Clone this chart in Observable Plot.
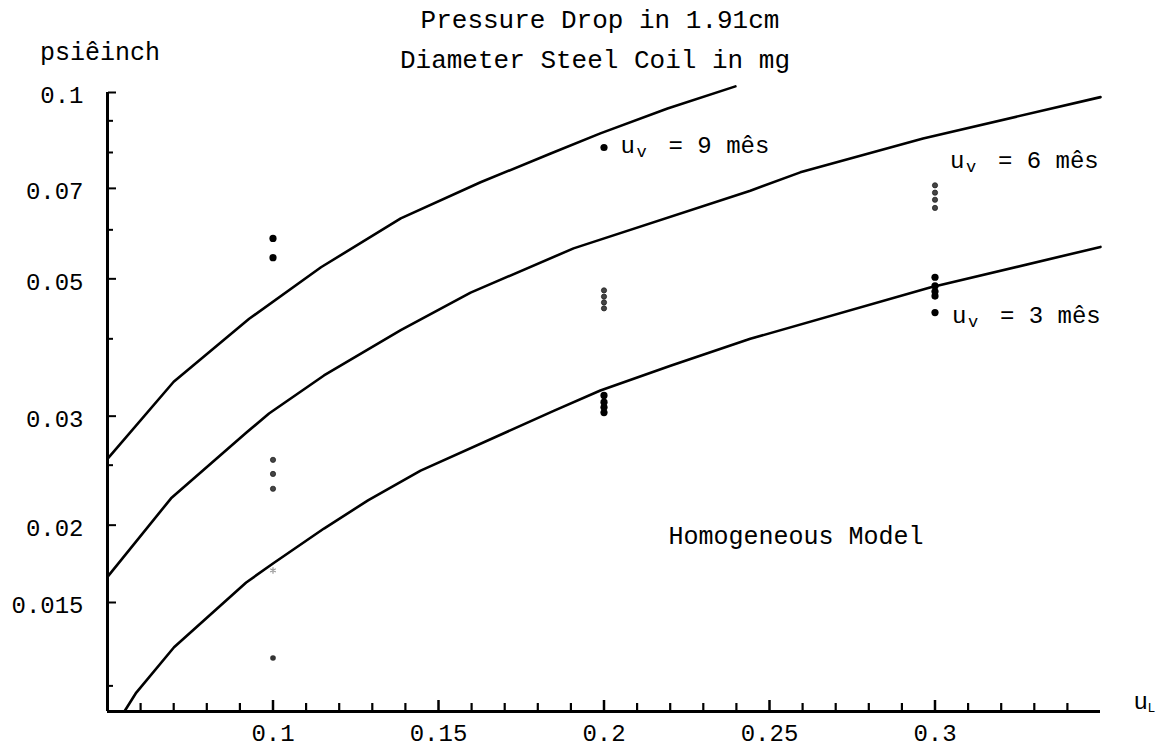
<!DOCTYPE html>
<html>
<head>
<meta charset="utf-8">
<script src="https://cdn.jsdelivr.net/npm/d3@7"></script>
<script src="https://cdn.jsdelivr.net/npm/@observablehq/plot@0.6"></script>
<style>
  body { margin: 0; background: #fff; font-family: "Liberation Mono", monospace; }
  #wrap { position: relative; width: 1169px; height: 750px; overflow: hidden; }
  #head { position: relative; height: 80px; }
  .t { position: absolute; white-space: pre; color: #000; line-height: 1; }
  #t1 { font-size: 26px; left: 600px; top: 8px; transform: translateX(-50%); }
  #t2 { font-size: 26px; left: 595px; top: 48px; transform: translateX(-50%); }
  #yl { font-size: 25px; left: 40px; top: 41px; }
  #chart svg { display: block; }
</style>
</head>
<body>
<div id="wrap">
  <div id="head">
    <div class="t" id="t1">Pressure Drop in 1.91cm</div>
    <div class="t" id="t2">Diameter Steel Coil in mg</div>
    <div class="t" id="yl">psiêinch</div>
  </div>
  <div id="chart"></div>
</div>
<script>
// ---- axis ticks ----
const xTicks = [0.1, 0.15, 0.2, 0.25, 0.3];
const xMinorTicks = [0.06,0.07,0.08,0.09,0.11,0.12,0.13,0.14,0.16,0.17,0.18,0.19,0.21,0.22,0.23,0.24,0.26,0.27,0.28,0.29,0.31,0.32,0.33,0.34];
const yTicks = [0.015, 0.02, 0.03, 0.05, 0.07, 0.1];
const yMinorTicks = [0.011, 0.025, 0.04, 0.06, 0.08, 0.09];

// ---- model curves (homogeneous model) ----
const curveX9 = [0.05, 0.07, 0.0928, 0.1145, 0.1386, 0.1627, 0.1839, 0.1989, 0.2192, 0.2397];
const curveY9 = [0.0256, 0.0341, 0.0431, 0.0522, 0.0626, 0.0716, 0.0797, 0.0859, 0.0942, 0.1023];
const curveX6 = [0.05, 0.0692, 0.0919, 0.0988, 0.1154, 0.1386, 0.1597, 0.1908, 0.2442, 0.2593, 0.2964, 0.35];
const curveY6 = [0.0165, 0.0221, 0.0282, 0.0303, 0.0349, 0.0413, 0.0475, 0.0560, 0.0694, 0.0743, 0.0843, 0.0983];
const curveX3 = [0.0551, 0.0587, 0.0701, 0.0919, 0.1, 0.1154, 0.1287, 0.1446, 0.1848, 0.1989, 0.2201, 0.2442, 0.2985, 0.35];
const curveY3 = [0.0100, 0.01073, 0.0127, 0.01616, 0.01734, 0.01975, 0.02193, 0.0245, 0.0306, 0.0330, 0.0362, 0.0400, 0.0484, 0.0563];

// ---- measured points ----
const pointsX9 = [0.1, 0.1, 0.2];
const pointsY9 = [0.0581, 0.0541, 0.0815];
const pointsX6 = [0.1, 0.1, 0.1, 0.2, 0.2, 0.2, 0.2, 0.3, 0.3, 0.3, 0.3];
const pointsY6 = [0.0255, 0.0242, 0.0229, 0.0479, 0.0468, 0.0458, 0.0448, 0.0708, 0.0689, 0.0671, 0.0651];
const pointsX3 = [0.1, 0.1, 0.2, 0.2, 0.2, 0.2, 0.3, 0.3, 0.3, 0.3, 0.3];
const pointsY3 = [0.0169, 0.0122, 0.0324, 0.0316, 0.0310, 0.0304, 0.0503, 0.0487, 0.0477, 0.0469, 0.0441];

// ---- curve labels ----
const labelSpeeds = ["9", "6", "3"];
const labelX = [0.205, 0.3045, 0.3051];
const labelY = [0.0797, 0.0756, 0.0425];
const modelLabel = ["Homogeneous Model"];
const modelLabelX = [0.2195];
const modelLabelY = [0.01868];

const zip = (xs, ys, extra = {}) => xs.map((x, i) => ({x, y: ys[i], ...extra}));
const curves = [
  ...zip(curveX9, curveY9, {s: "9"}),
  ...zip(curveX6, curveY6, {s: "6"}),
  ...zip(curveX3, curveY3, {s: "3"})
];
const p9 = zip(pointsX9, pointsY9);
const p6 = zip(pointsX6, pointsY6);
const p3 = zip(pointsX3, pointsY3);
const labels = labelSpeeds.map((s, i) => ({s, x: labelX[i], y: labelY[i]}));
const model = modelLabel.map((t, i) => ({t, x: modelLabelX[i], y: modelLabelY[i]}));

const W = 1169, H = 670, ML = 107, MR = 69, MT = 12, MB = 39;
const frameH = H - MT - MB;
const yDomain = [0.01, 0.1];
// tick length in pixels converted to a factor on the log y scale (one decade = frameH px)
const tickEnd = px => yDomain[0] * Math.pow(yDomain[1] / yDomain[0], px / frameH);
const xMinorRows = xMinorTicks.map(x => ({x}));
const xMajorRows = xTicks.map(x => ({x}));

const F = "Liberation Mono";
const noText = () => "";
const chart = Plot.plot({
  width: W,
  height: H,
  marginTop: MT,
  marginBottom: MB,
  marginLeft: ML,
  marginRight: MR,
  x: {domain: [0.05, 0.35]},
  y: {type: "log", domain: yDomain},
  style: {fontFamily: F, fontSize: "24px", color: "#000", background: "#fff", overflow: "visible"},
  marks: [
    // axes lines
    Plot.ruleX([0.05], {stroke: "#000", strokeWidth: 3}),
    Plot.ruleY([0.01], {stroke: "#000", strokeWidth: 3}),
    // inward ticks on y axis (drawn rightward from the left edge)
    Plot.axisY(yMinorTicks, {anchor: "right", frameAnchor: "left", tickSize: 5, strokeWidth: 2, tickFormat: noText, label: null}),
    Plot.axisY(yTicks, {anchor: "right", frameAnchor: "left", tickSize: 8, strokeWidth: 2, tickFormat: noText, label: null}),
    // inward ticks on x axis: short vertical rules rising from the bottom edge
    Plot.ruleX(xMinorRows, {x: "x", y1: () => yDomain[0], y2: () => tickEnd(8), stroke: "#000", strokeWidth: 2.2}),
    Plot.ruleX(xMajorRows, {x: "x", y1: () => yDomain[0], y2: () => tickEnd(11), stroke: "#000", strokeWidth: 2.5}),
    // tick labels
    Plot.axisX(xTicks, {tickSize: 0, tickPadding: 12, tickFormat: d => String(d), fontSize: 24, label: null}),
    Plot.axisY(yTicks, {tickSize: 0, tickPadding: 24, dy: 3, tickFormat: d => String(d), fontSize: 24, label: null}),
    // model curves
    Plot.line(curves, {x: "x", y: "y", z: "s", stroke: "#000", strokeWidth: 2.6, curve: "linear"}),
    // measured points
    Plot.dot(p9, {x: "x", y: "y", r: 3.6, fill: "#000", stroke: null}),
    Plot.dot(p6, {x: "x", y: "y", r: 2.6, fill: "#444", stroke: "#222", strokeWidth: 0.8}),
    Plot.dot(p3.filter(d => d.x > 0.15), {x: "x", y: "y", r: 3.6, fill: "#000", stroke: null}),
    Plot.dot(p3.filter(d => d.x <= 0.15).slice(0, 1), {x: "x", y: "y", r: 3, symbol: "asterisk", stroke: "#999", strokeWidth: 1.2}),
    Plot.dot(p3.filter(d => d.x <= 0.15).slice(1), {x: "x", y: "y", r: 2.8, fill: "#333", stroke: null}),
    // curve labels: u_v = N mês
    Plot.text(labels, {x: "x", y: "y", text: () => "u", textAnchor: "start", lineAnchor: "bottom", fontSize: 24}),
    Plot.text(labels, {x: "x", y: "y", text: () => "v", textAnchor: "start", lineAnchor: "bottom", fontSize: 17, dx: 16, dy: 4}),
    Plot.text(labels, {x: "x", y: "y", text: d => "= " + d.s + " mês", textAnchor: "start", lineAnchor: "bottom", fontSize: 24, dx: 48}),
    Plot.text(model, {x: "x", y: "y", text: "t", textAnchor: "start", lineAnchor: "bottom", fontSize: 25}),
    // x axis label u_L
    Plot.text(["u"], {frameAnchor: "bottom-right", text: d => d, textAnchor: "start", lineAnchor: "bottom", fontSize: 24, dx: 33, dy: -3}),
    Plot.text(["L"], {frameAnchor: "bottom-right", text: d => d, textAnchor: "start", lineAnchor: "bottom", fontSize: 13, dx: 47, dy: 0})
  ]
});
document.getElementById("chart").appendChild(chart);
</script>
</body>
</html>
